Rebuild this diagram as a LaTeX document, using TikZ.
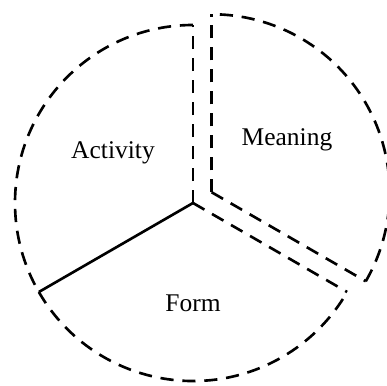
\documentclass[tikz,border=0pt]{standalone}
\usepackage{fontspec}
\setmainfont{Liberation Serif}
\usepackage{tikz}
\usetikzlibrary{calc}

\begin{document}
\begin{tikzpicture}[
    font=\fontsize{14.5}{16}\selectfont,
    rand/.style={line width=1.5pt, dash pattern=on 7.5pt off 5pt},
    naad/.style={line width=1.5pt},
    etiket/.style={anchor=center, inner sep=0pt}
  ]
    \useasboundingbox (-3.86,-3.64) rectangle (3.88,4.06);
    % middelpunten
    \coordinate (mid) at (0,0);
    \coordinate (bmid) at (30:0.43);
    \def\r{3.56}
    % activiteit en vorm
    \draw[rand] (mid) -- ++(90:\r) coordinate (top);
    \draw[rand] (top) arc[start angle=90, end angle=210, radius=\r] coordinate (links);
    \draw[naad] (mid) -- (links);
    \draw[rand] (links) arc[start angle=210, end angle=330, radius=\r] coordinate (rechts);
    \draw[rand] (mid) -- (rechts);
    % betekenis, iets naar buiten geschoven
    \draw[rand] (bmid) -- ++(90:\r) coordinate (btop);
    \draw[rand] (bmid) -- ++(-30:\r) coordinate (brechts);
    \draw[rand] (brechts) arc[start angle=-30, end angle=90, radius=\r];
    \node[etiket] (act) at (-1.6,1.0)  {Activity};
    \node[etiket] (bet) at (1.88,1.26) {Meaning};
    \node[etiket] (vrm) at (0,-2.0)    {Form};
  \end{tikzpicture}
\end{document}
